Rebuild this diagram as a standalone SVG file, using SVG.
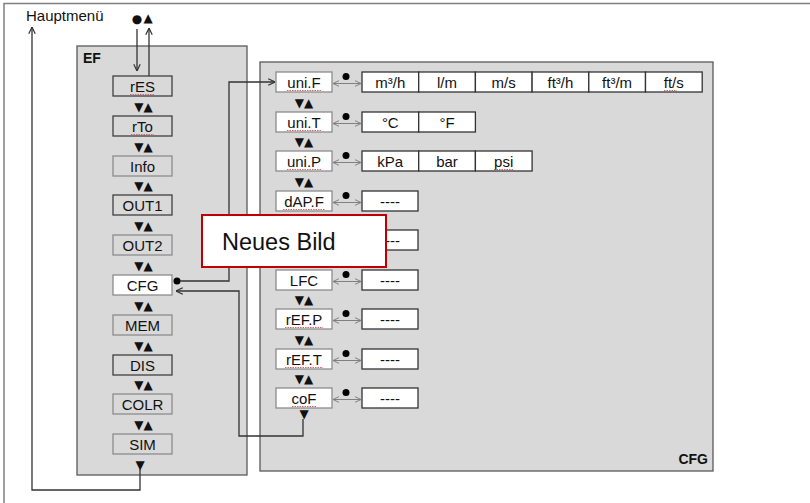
<svg xmlns="http://www.w3.org/2000/svg" width="810" height="503" viewBox="0 0 810 503">
<defs>
<style>
text{font-family:"Liberation Sans",Arial,sans-serif;fill:#111}
.lbl{font-size:15px;text-anchor:middle}
.sym{font-family:"DejaVu Sans",sans-serif;font-size:12px;text-anchor:middle}
.dot{fill:#000}
.panel{fill:#d9d9d9;stroke:#595959;stroke-width:1.3}
.bd{fill:#d9d9d9;stroke:#404040;stroke-width:1.3}
.bl{fill:#d9d9d9;stroke:#8c8c8c;stroke-width:1.3}
.bw{fill:#fff;stroke:#8c8c8c;stroke-width:1.3}
.val{fill:#fff;stroke:#333;stroke-width:1.3}
.conn{fill:none;stroke:#333;stroke-width:1.3}
.dbl{fill:none;stroke:#808080;stroke-width:1}
.sq{fill:none;stroke:#e06060;stroke-width:1;stroke-dasharray:1.5 1}
.title{font-size:14px;font-weight:bold}
</style>
<marker id="ah" viewBox="0 0 10 10" refX="9.5" refY="5" markerWidth="8" markerHeight="8" markerUnits="userSpaceOnUse" orient="auto-start-reverse">
<path d="M1,1 L9.5,5 L1,9" fill="none" stroke="#333" stroke-width="1.5"/>
</marker>
<marker id="ag" viewBox="0 0 10 10" refX="9.5" refY="5" markerWidth="7" markerHeight="7" markerUnits="userSpaceOnUse" orient="auto-start-reverse">
<path d="M1,1 L9.5,5 L1,9" fill="none" stroke="#808080" stroke-width="1.4"/>
</marker>
</defs>

<rect width="810" height="503" fill="#fff"/>
<path d="M4,504 V3.5 H811" fill="none" stroke="#808080" stroke-width="1.5"/>

<g id="hauptmenue">
<text x="26" y="21" font-size="15">Hauptmenü</text>
<text class="sym" x="137" y="23" font-size="13">●</text>
<text class="sym" x="148" y="22" font-size="12">▲</text>
</g>

<g id="ef-panel">
<rect class="panel" x="77" y="46" width="170" height="429"/>
<text class="title" x="83" y="63">EF</text>
</g>
<g id="cfg-panel">
<rect class="panel" x="260" y="62" width="453" height="409"/>
<text class="title" x="708" y="464" text-anchor="end">CFG</text>
</g>

<g id="ef-items">
<g id="rES"><rect class="bd" x="113" y="76" width="59" height="20"/><text class="lbl" x="142.5" y="91.5">rES</text><path class="sq" d="M130,94.5 H155"/></g>
<g id="rTo"><rect class="bd" x="113" y="116" width="59" height="20"/><text class="lbl" x="142.5" y="131.5">rTo</text><path class="sq" d="M131,134.5 H154"/></g>
<g id="Info"><rect class="bl" x="113" y="156" width="59" height="20"/><text class="lbl" x="142.5" y="171.5">Info</text></g>
<g id="OUT1"><rect class="bd" x="113" y="195" width="59" height="20"/><text class="lbl" x="142.5" y="210.5">OUT1</text></g>
<g id="OUT2"><rect class="bl" x="113" y="235" width="59" height="20"/><text class="lbl" x="142.5" y="250.5">OUT2</text></g>
<g id="CFG"><rect class="bw" x="113" y="275" width="59" height="20"/><text class="lbl" x="142.5" y="290.5">CFG</text></g>
<g id="MEM"><rect class="bl" x="113" y="315" width="59" height="20"/><text class="lbl" x="142.5" y="330.5">MEM</text></g>
<g id="DIS"><rect class="bd" x="113" y="355" width="59" height="20"/><text class="lbl" x="142.5" y="370.5">DIS</text></g>
<g id="COLR"><rect class="bl" x="113" y="394" width="59" height="20"/><text class="lbl" x="142.5" y="409.5">COLR</text></g>
<g id="SIM"><rect class="bl" x="113" y="434" width="59" height="20"/><text class="lbl" x="142.5" y="449.5">SIM</text></g>
<g class="nav">
<text class="sym" x="143.5" y="110.5">▼▲</text>
<text class="sym" x="143.5" y="150.5">▼▲</text>
<text class="sym" x="143.5" y="190">▼▲</text>
<text class="sym" x="143.5" y="229.5">▼▲</text>
<text class="sym" x="143.5" y="269.5">▼▲</text>
<text class="sym" x="143.5" y="309.5">▼▲</text>
<text class="sym" x="143.5" y="349.5">▼▲</text>
<text class="sym" x="143.5" y="389">▼▲</text>
<text class="sym" x="143.5" y="428.5">▼▲</text>
<text class="sym" x="140" y="469">▼</text>
</g>
</g>

<g id="cfg-items">
<g id="uni.F">
<rect class="bw" x="276" y="72" width="56" height="20"/><text class="lbl" x="304" y="87.5">uni.F</text><path class="sq" d="M287,90.5 H321"/>
<circle class="dot" cx="346" cy="76.5" r="3.5"/><path class="dbl" d="M333,83.5 H361" marker-start="url(#ag)" marker-end="url(#ag)"/>
<rect class="val" x="362" y="72" width="56.7" height="20"/><text class="lbl" x="390.3" y="87.5">m³/h</text>
<rect class="val" x="418.7" y="72" width="56.7" height="20"/><text class="lbl" x="447" y="87.5">l/m</text>
<rect class="val" x="475.4" y="72" width="56.7" height="20"/><text class="lbl" x="503.7" y="87.5">m/s</text>
<rect class="val" x="532.1" y="72" width="56.7" height="20"/><text class="lbl" x="560.4" y="87.5">ft³/h</text>
<rect class="val" x="588.8" y="72" width="56.7" height="20"/><text class="lbl" x="617.1" y="87.5">ft³/m</text>
<rect class="val" x="645.5" y="72" width="56.7" height="20"/><text class="lbl" x="673.8" y="87.5">ft/s</text><path class="sq" d="M664,90.5 H677"/>
</g>
<g id="uni.T">
<rect class="bw" x="276" y="112" width="56" height="20"/><text class="lbl" x="304" y="127.5">uni.T</text><path class="sq" d="M287,130.5 H321"/>
<circle class="dot" cx="346" cy="116.5" r="3.5"/><path class="dbl" d="M333,123.5 H361" marker-start="url(#ag)" marker-end="url(#ag)"/>
<rect class="val" x="362" y="112" width="56.7" height="20"/><text class="lbl" x="390.3" y="127.5">°C</text>
<rect class="val" x="418.7" y="112" width="56.7" height="20"/><text class="lbl" x="447" y="127.5">°F</text>
</g>
<g id="uni.P">
<rect class="bw" x="276" y="151" width="56" height="20"/><text class="lbl" x="304" y="166.5">uni.P</text><path class="sq" d="M287,169.5 H321"/>
<circle class="dot" cx="346" cy="155.5" r="3.5"/><path class="dbl" d="M333,162.5 H361" marker-start="url(#ag)" marker-end="url(#ag)"/>
<rect class="val" x="362" y="151" width="56.7" height="20"/><text class="lbl" x="390.3" y="166.5">kPa</text>
<rect class="val" x="418.7" y="151" width="56.7" height="20"/><text class="lbl" x="447" y="166.5">bar</text>
<rect class="val" x="475.4" y="151" width="56.7" height="20"/><text class="lbl" x="503.7" y="166.5">psi</text><path class="sq" d="M494,169.5 H513"/>
</g>
<g id="dAP.F">
<rect class="bw" x="276" y="191" width="56" height="20"/><text class="lbl" x="304" y="206.5">dAP.F</text><path class="sq" d="M283,209.5 H325"/>
<circle class="dot" cx="346" cy="195.5" r="3.5"/><path class="dbl" d="M333,202.5 H361" marker-start="url(#ag)" marker-end="url(#ag)"/>
<rect class="val" x="362" y="191" width="56" height="20"/><text class="lbl" x="390" y="206.5">----</text>
</g>
<g id="row5">
<rect class="val" x="362" y="230" width="56" height="20"/><text class="lbl" x="390" y="245.5">----</text>
</g>
<g id="LFC">
<rect class="bw" x="276" y="270" width="56" height="20"/><text class="lbl" x="304" y="285.5">LFC</text>
<circle class="dot" cx="346" cy="274.5" r="3.5"/><path class="dbl" d="M333,281.5 H361" marker-start="url(#ag)" marker-end="url(#ag)"/>
<rect class="val" x="362" y="270" width="56" height="20"/><text class="lbl" x="390" y="285.5">----</text>
</g>
<g id="rEF.P">
<rect class="bw" x="276" y="309" width="56" height="20"/><text class="lbl" x="304" y="324.5">rEF.P</text><path class="sq" d="M285,327.5 H323"/>
<circle class="dot" cx="346" cy="313.5" r="3.5"/><path class="dbl" d="M333,320.5 H361" marker-start="url(#ag)" marker-end="url(#ag)"/>
<rect class="val" x="362" y="309" width="56" height="20"/><text class="lbl" x="390" y="324.5">----</text>
</g>
<g id="rEF.T">
<rect class="bw" x="276" y="349" width="56" height="20"/><text class="lbl" x="304" y="364.5">rEF.T</text><path class="sq" d="M285,367.5 H323"/>
<circle class="dot" cx="346" cy="353.5" r="3.5"/><path class="dbl" d="M333,360.5 H361" marker-start="url(#ag)" marker-end="url(#ag)"/>
<rect class="val" x="362" y="349" width="56" height="20"/><text class="lbl" x="390" y="364.5">----</text>
</g>
<g id="coF">
<rect class="bw" x="276" y="388" width="56" height="20"/><text class="lbl" x="304" y="403.5">coF</text><path class="sq" d="M292,406.5 H316"/>
<circle class="dot" cx="346" cy="392.5" r="3.5"/><path class="dbl" d="M333,399.5 H361" marker-start="url(#ag)" marker-end="url(#ag)"/>
<rect class="val" x="362" y="388" width="56" height="20"/><text class="lbl" x="390" y="403.5">----</text>
</g>
<g class="nav">
<text class="sym" x="304" y="106.5">▼▲</text>
<text class="sym" x="304" y="146">▼▲</text>
<text class="sym" x="304" y="185.5">▼▲</text>
<text class="sym" x="304" y="304">▼▲</text>
<text class="sym" x="304" y="343.5">▼▲</text>
<text class="sym" x="304" y="383">▼▲</text>
<text class="sym" x="304" y="418">▼</text>
</g>
</g>

<g id="connectors">
<path class="conn" d="M137,29 V71" marker-end="url(#ah)"/>
<path class="conn" d="M149,76 V28" marker-end="url(#ah)"/>
<path class="conn" d="M140,469 V490 H32 V27" marker-end="url(#ah)"/>
<circle class="dot" cx="177" cy="281" r="3.5"/>
<path class="conn" d="M180,281 H229 V82 H275" marker-end="url(#ah)"/>
<path class="conn" d="M303,419 V436 H239 V291 H176" marker-end="url(#ah)"/>
</g>

<g id="neues-bild">
<rect x="202" y="215" width="184" height="52" fill="#fff" stroke="#c00000" stroke-width="2"/>
<text x="222" y="250" font-size="23.5">Neues Bild</text>
</g>
</svg>
